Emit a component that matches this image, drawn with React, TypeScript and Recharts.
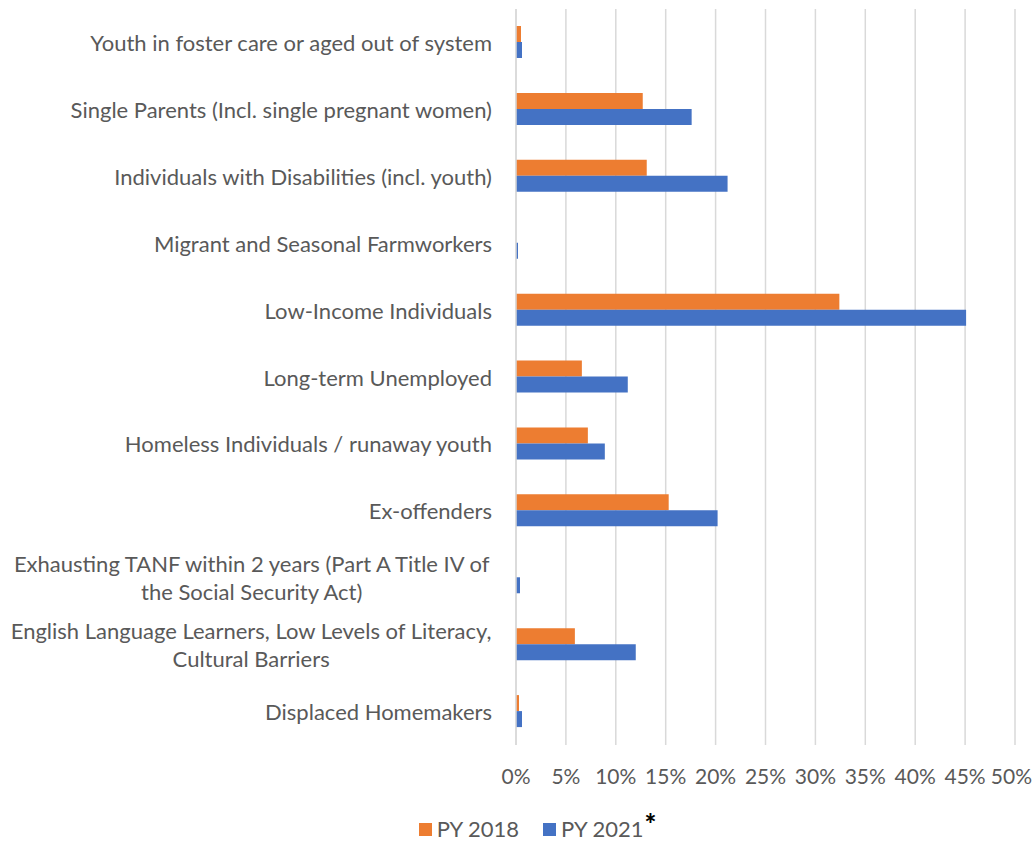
import React from 'react';
import { BarChart, Bar, XAxis, YAxis, CartesianGrid, Legend } from 'recharts';

// Categories (top to bottom), explicit line breaks where the label wraps
const categories = [
  'Youth in foster care or aged out of system',
  'Single Parents (Incl. single pregnant women)',
  'Individuals with Disabilities (incl. youth)',
  'Migrant and Seasonal Farmworkers',
  'Low-Income Individuals',
  'Long-term Unemployed ',
  'Homeless Individuals / runaway youth',
  'Ex-offenders',
  'Exhausting TANF within 2 years (Part A Title IV of\nthe Social Security Act)',
  'English Language Learners, Low Levels of Literacy,\nCultural Barriers',
  'Displaced Homemakers',
];

// Percent values
const py2018 = [0.5, 12.7, 13.1, 0, 32.4, 6.6, 7.2, 15.3, 0, 5.9, 0.3];
const py2021 = [0.6, 17.6, 21.2, 0.2, 45.1, 11.2, 8.9, 20.2, 0.4, 12.0, 0.6];

const xTicks = [0, 5, 10, 15, 20, 25, 30, 35, 40, 45, 50];

const FONT = 'Lato, "Open Sans", sans-serif';
const FONT_SIZE = 22;
const TEXT_COLOR = '#595959';
const ORANGE = '#ED7D31';
const BLUE = '#4472C4';
const GRID = '#D9D9D9';
const CHART_W = 1034;

const data = categories.map((name, i) => ({
  name,
  py2018: py2018[i],
  py2021: py2021[i],
}));

let measureCtx: CanvasRenderingContext2D | null = null;
const measure = (txt: string, size = FONT_SIZE): number => {
  if (!measureCtx) {
    measureCtx = document.createElement('canvas').getContext('2d');
  }
  if (!measureCtx) return txt.length * size * 0.45;
  measureCtx.font = `${size}px Lato`;
  return measureCtx.measureText(txt).width;
};

const CategoryTick = ({ x, y, payload }: any) => {
  const lines: string[] = String(payload.value).split('\n');
  const lineH = 28;
  const startY = y - ((lines.length - 1) * lineH) / 2;
  if (lines.length === 1) {
    return (
      <text x={x} y={y} textAnchor="end" dominantBaseline="central"
        fontFamily={FONT} fontSize={FONT_SIZE} fill={TEXT_COLOR}>
        {lines[0]}
      </text>
    );
  }
  // wrapped labels: lines centred on each other, block right-aligned
  const maxW = Math.max(...lines.map((l) => measure(l)));
  const cx = x - maxW / 2;
  return (
    <text textAnchor="middle" fontFamily={FONT} fontSize={FONT_SIZE} fill={TEXT_COLOR}>
      {lines.map((l, i) => (
        <tspan key={i} x={cx} y={startY + i * lineH} dominantBaseline="central">{l}</tspan>
      ))}
    </text>
  );
};

const PercentTick = ({ x, y, payload }: any) => {
  const label = `${payload.value}%`;
  // keep the last label inside the picture
  const half = measure(label, 21) / 2;
  const tx = Math.min(x, CHART_W - 2 - half);
  return (
    <text x={tx} y={y} textAnchor="middle" dominantBaseline="central"
      fontFamily={FONT} fontSize={21} fill={TEXT_COLOR}>
      {label}
    </text>
  );
};

const LegendContent = () => (
  <div style={{
    display: 'flex', justifyContent: 'center', alignItems: 'center',
    height: 40, paddingTop: 14, paddingLeft: 60, boxSizing: 'border-box',
    fontFamily: FONT, fontSize: FONT_SIZE, color: TEXT_COLOR, lineHeight: '26px',
  }}>
    <span style={{ width: 13, height: 13, background: ORANGE, display: 'inline-block', marginRight: 5 }} />
    <span style={{ marginRight: 24 }}>PY 2018</span>
    <span style={{ width: 13, height: 13, background: BLUE, display: 'inline-block', marginRight: 5 }} />
    <span>PY 2021</span>
    <span style={{
      color: '#000', fontWeight: 900, fontSize: 28, lineHeight: '10px',
      position: 'relative', top: -6, marginLeft: 1,
    }}>*</span>
  </div>
);

export default function App() {
  return (
    <div style={{ position: 'absolute', left: 0, top: 0, background: '#fff' }}>
      <BarChart
        width={CHART_W}
        height={842}
        data={data}
        layout="vertical"
        margin={{ top: 9, right: 19, left: 0, bottom: 0 }}
        barGap={0}
      >
        <CartesianGrid horizontal={false} stroke={GRID} strokeWidth={1.5} />
        <XAxis
          type="number"
          domain={[0, 50]}
          ticks={xTicks}
          interval={0}
          axisLine={false}
          tickLine={false}
          tickSize={0}
          tickMargin={30}
          height={57}
          tick={<PercentTick />}
        />
        <YAxis
          type="category"
          dataKey="name"
          width={516}
          interval={0}
          axisLine={{ stroke: GRID, strokeWidth: 1.5 }}
          tickLine={false}
          tickSize={0}
          tickMargin={24}
          tick={<CategoryTick />}
        />
        <Legend verticalAlign="bottom" height={40} content={<LegendContent />} />
        <Bar dataKey="py2018" name="PY 2018" fill={ORANGE} barSize={16} isAnimationActive={false} />
        <Bar dataKey="py2021" name="PY 2021" fill={BLUE} barSize={16} isAnimationActive={false} />
      </BarChart>
    </div>
  );
}
